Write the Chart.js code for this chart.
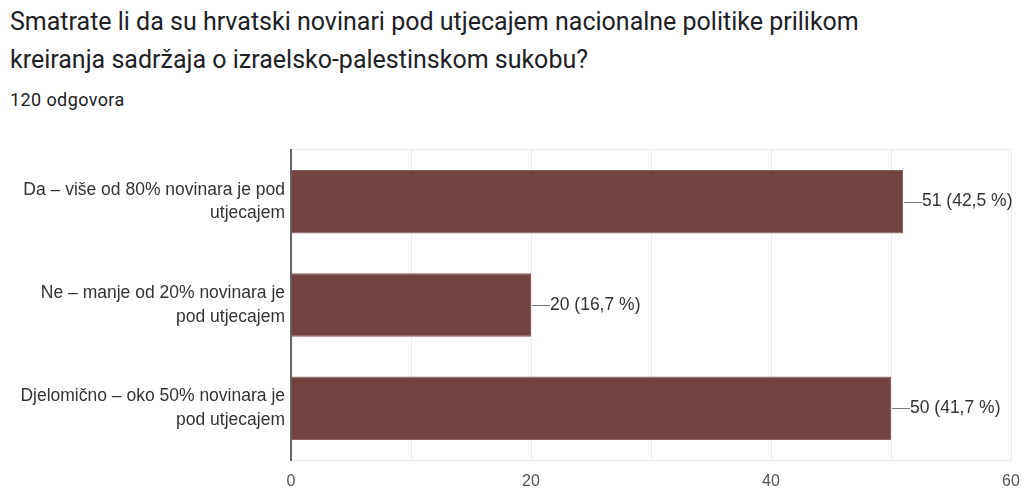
<!DOCTYPE html>
<html>
<head>
<meta charset="utf-8">
<script src="https://cdn.jsdelivr.net/npm/chart.js@4"></script>
<style>
    body { margin: 0; background: #fff; width: 1027px; height: 491px; overflow: hidden; position: relative; }
    .naslov { position: absolute; left: 10px; top: 3px; font-family: Roboto, Arial, sans-serif; font-size: 25px; line-height: 38px; color: #202124; white-space: nowrap; }
    .odgovori { position: absolute; left: 10px; top: 89px; font-family: Roboto, Arial, sans-serif; font-size: 18px; letter-spacing: 0.4px; color: #202124; }
    .grafikon { position: absolute; left: 0; top: 130px; width: 1027px; height: 361px; }
</style>
</head>
<body>
<div class="naslov">Smatrate li da su hrvatski novinari pod utjecajem nacionalne politike prilikom<br>kreiranja sadržaja o izraelsko-palestinskom sukobu?</div>
<div class="odgovori">120 odgovora</div>
<div class="grafikon"><canvas id="grafico"></canvas></div>
<script>
// odgovori
const kategorije = [
    ['Da – više od 80% novinara je pod', 'utjecajem'],
    ['Ne – manje od 20% novinara je', 'pod utjecajem'],
    ['Djelomično – oko 50% novinara je', 'pod utjecajem']
];
const brojOdgovora = [51, 20, 50];
const postotci = ['42,5', '16,7', '41,7'];
const oznakeX = [0, 20, 40, 60];

const fontGraf = '"Liberation Sans", Arial, sans-serif';

// oznake uz stupce: crtica + broj (postotak)
let pluginOznake = {
    id: 'oznake',
    afterDatasetsDraw: function (chart) {
        let ctx = chart.ctx;
        let meta = chart.getDatasetMeta(0);
        ctx.save();
        ctx.font = '17.5px ' + fontGraf;
        ctx.textBaseline = 'middle';
        meta.data.forEach(function (bar, i) {
            ctx.strokeStyle = '#777';
            ctx.lineWidth = 1;
            ctx.beginPath();
            ctx.moveTo(bar.x + 1, Math.round(bar.y) + 0.5);
            ctx.lineTo(bar.x + 19, Math.round(bar.y) + 0.5);
            ctx.stroke();
            ctx.fillStyle = '#333';
            ctx.fillText(brojOdgovora[i] + ' (' + postotci[i] + ' %)', bar.x + 19, bar.y);
        });
        ctx.restore();
    }
};

new Chart(document.getElementById('grafico'), {
    type: 'bar',
    data: {
        labels: kategorije,
        datasets: [
            {
                data: brojOdgovora,
                backgroundColor: '#734342',
                borderColor: '#8a5f5e',
                borderWidth: 1,
                categoryPercentage: 1,
                barPercentage: 0.615
            }
        ]
    },
    options: {
        indexAxis: 'y',
        responsive: true,
        maintainAspectRatio: false,
        animation: false,
        layout: { padding: { top: 20, right: 16, left: 0, bottom: 0 } },
        scales: {
            x: {
                min: 0,
                max: 60,
                ticks: {
                    stepSize: 10,
                    color: '#555',
                    font: { family: fontGraf, size: 16 },
                    padding: 12,
                    callback: function (v) { return oznakeX.includes(v) ? v : ''; }
                },
                grid: { color: '#ebebeb', drawTicks: false },
                border: { color: '#ebebeb' },
                afterFit: function (scale) {
                    scale.height = 31;
                    scale.paddingLeft = 0;
                    scale.paddingRight = 0;
                }
            },
            y: {
                ticks: {
                    color: '#333',
                    font: { family: fontGraf, size: 17.5, lineHeight: 1.35 },
                    padding: 6
                },
                grid: {
                    drawTicks: false,
                    color: function (c) { return c.index === 0 ? '#ebebeb' : 'transparent'; }
                },
                border: { color: '#666', width: 2 },
                afterFit: function (scale) {
                    scale.width = 291;
                    scale.paddingTop = 0;
                    scale.paddingBottom = 0;
                }
            }
        },
        plugins: {
            legend: { display: false },
            tooltip: { enabled: false }
        }
    },
    plugins: [pluginOznake]
});
</script>
</body>
</html>
